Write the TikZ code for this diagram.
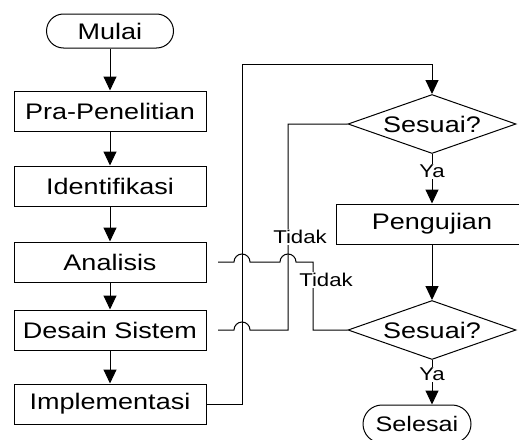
\documentclass[tikz,border=0pt]{standalone}
\usepackage{fontspec}
\setmainfont[FakeStretch=1.2]{Liberation Sans}
\usetikzlibrary{arrows.meta,shapes.geometric}
\begin{document}
\begin{tikzpicture}[x=1pt,y=1pt,
  ln/.style={line width=1pt},
  box/.style={draw, ln, minimum width=192pt, minimum height=40pt, inner sep=0pt, font=\fontsize{22.5}{26}\selectfont},
  term/.style={draw, ln, rounded corners=17pt, minimum height=34pt, inner sep=0pt, font=\fontsize{22.5}{26}\selectfont},
  dec/.style={draw, ln, diamond, aspect=2.85, minimum width=168pt, minimum height=59pt, inner sep=0pt, font=\fontsize{22.5}{26}\selectfont},
  lbl/.style={fill=white, inner sep=1pt, font=\fontsize{18.5}{21}\selectfont},
  arr/.style={ln, -{Triangle[length=14pt,width=13pt]}},
]
\useasboundingbox (0,0) rectangle (519,-439);
\clip (0,0) rectangle (519,-439);

\node[term, minimum width=127pt] (mulai) at (110,-31) {Mulai};
\node[box] (pra) at (110,-111) {Pra-Penelitian};
\node[box] (ident) at (110,-186) {Identifikasi};
\node[box] (ana) at (110,-262) {Analisis};
\node[box] (des) at (110,-330) {Desain Sistem};
\node[box] (impl) at (110,-404) {Implementasi};

\node[dec] (d1) at (432,-124) {Sesuai?};
\node[box] (peng) at (432,-224) {Pengujian};
\node[dec] (d2) at (432,-330) {Sesuai?};
\node[term, minimum width=108pt, minimum height=38pt, rounded corners=19pt, font=\fontsize{21}{24}\selectfont] (sel) at (417,-424) {Selesai};

\coordinate (ja) at (218,-262);
\coordinate (jd) at (218,-330);

\draw[arr] (mulai) -- (pra);
\draw[arr] (pra) -- (ident);
\draw[arr] (ident) -- (ana);
\draw[arr] (ana) -- (des);
\draw[arr] (des) -- (impl);

\draw[arr] (impl.east) -- (242,-404) -- (242,-64) -| (d1.north);
\draw[ln] (d1.west) -| (288,-330) -- (250,-330) arc[start angle=0,end angle=180,radius=8] -- (jd);
\draw[ln] (d2.west) -| (313,-262) -- (296,-262) arc[start angle=0,end angle=180,radius=8]
  -- (250,-262) arc[start angle=0,end angle=180,radius=8] -- (ja);

\draw[arr] (d1.south) -- (peng.north) node[lbl, pos=0.35] {Ya};
\draw[arr] (peng) -- (d2);
\draw[arr] (d2.south) -- (d2.south |- sel.north) node[lbl, pos=0.32] {Ya};

\node[lbl] (t1) at (300,-237) {Tidak};
\node[lbl] (t2) at (326,-280) {Tidak};
\end{tikzpicture}
\end{document}
